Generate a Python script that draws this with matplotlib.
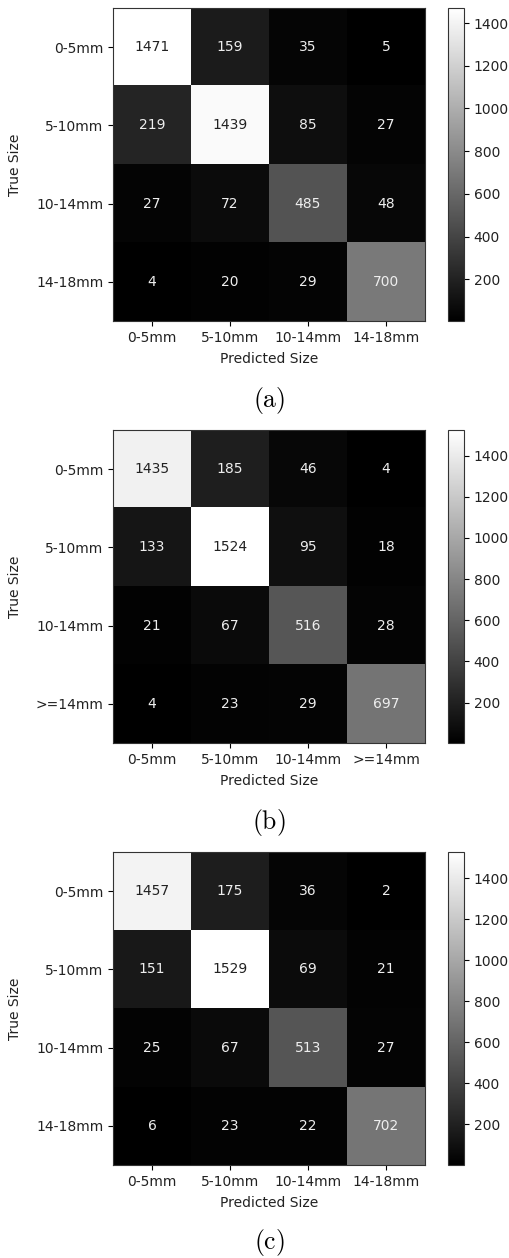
import numpy as np
import matplotlib
matplotlib.use("Agg")
import matplotlib.pyplot as plt

plt.rcParams['mathtext.fontset'] = 'cm'

# matrices de confusion (lignes = vraie taille, colonnes = taille predite)
labels_a = ['0-5mm', '5-10mm', '10-14mm', '14-18mm']
cm_a = [[1471, 159, 35, 5],
        [219, 1439, 85, 27],
        [27, 72, 485, 48],
        [4, 20, 29, 700]]

labels_b = ['0-5mm', '5-10mm', '10-14mm', '>=14mm']
cm_b = [[1435, 185, 46, 4],
        [133, 1524, 95, 18],
        [21, 67, 516, 28],
        [4, 23, 29, 697]]

labels_c = ['0-5mm', '5-10mm', '10-14mm', '14-18mm']
cm_c = [[1457, 175, 36, 2],
        [151, 1529, 69, 21],
        [25, 67, 513, 27],
        [6, 23, 22, 702]]

captions = ['(a)', '(b)', '(c)']

W, H = 510, 1258
fig = plt.figure(figsize=(W / 100, H / 100), dpi=100)

tops = [8, 430, 852]
cap_y = [400, 822, 1243]
fs = 10

for k, (cm, labels) in enumerate([(cm_a, labels_a), (cm_b, labels_b), (cm_c, labels_c)]):
    cm = np.array(cm)
    top = tops[k]
    ax = fig.add_axes([113 / W, 1 - (top + 313) / H, 312 / W, 313 / H])
    cax = fig.add_axes([448 / W, 1 - (top + 313) / H, 16 / W, 313 / H])
    im = ax.imshow(cm, cmap='gray', vmin=cm.min(), vmax=cm.max(), aspect='auto')
    cmap = plt.get_cmap('gray')
    thresh = (cm.max() + cm.min()) / 2.0
    for i in range(cm.shape[0]):
        for j in range(cm.shape[1]):
            col = '#222222' if cm[i, j] >= thresh else '#eeeeee'
            ax.text(j, i, str(cm[i, j]), ha='center', va='center', color=col, fontsize=fs)
    ax.set_xticks(range(len(labels)))
    ax.set_xticklabels(labels, fontsize=fs, color='#222222')
    ax.set_yticks(range(len(labels)))
    ax.set_yticklabels(labels, fontsize=fs, color='#222222')
    ax.set_xlabel('Predicted Size', fontsize=fs, labelpad=5, color='#222222')
    ax.set_ylabel('True Size', fontsize=fs, labelpad=10, color='#222222')
    for s in ax.spines.values():
        s.set_color('#333333')
    cb = fig.colorbar(im, cax=cax)
    cb.set_ticks([200, 400, 600, 800, 1000, 1200, 1400])
    cb.ax.tick_params(labelsize=fs, labelcolor='#222222')
    cb.outline.set_edgecolor('#333333')
    fig.text(269 / W, 1 - cap_y[k] / H, r'$\mathrm{' + captions[k] + '}$',
             ha='center', va='center', fontsize=18.5)

fig.savefig('out.png', dpi=100)
